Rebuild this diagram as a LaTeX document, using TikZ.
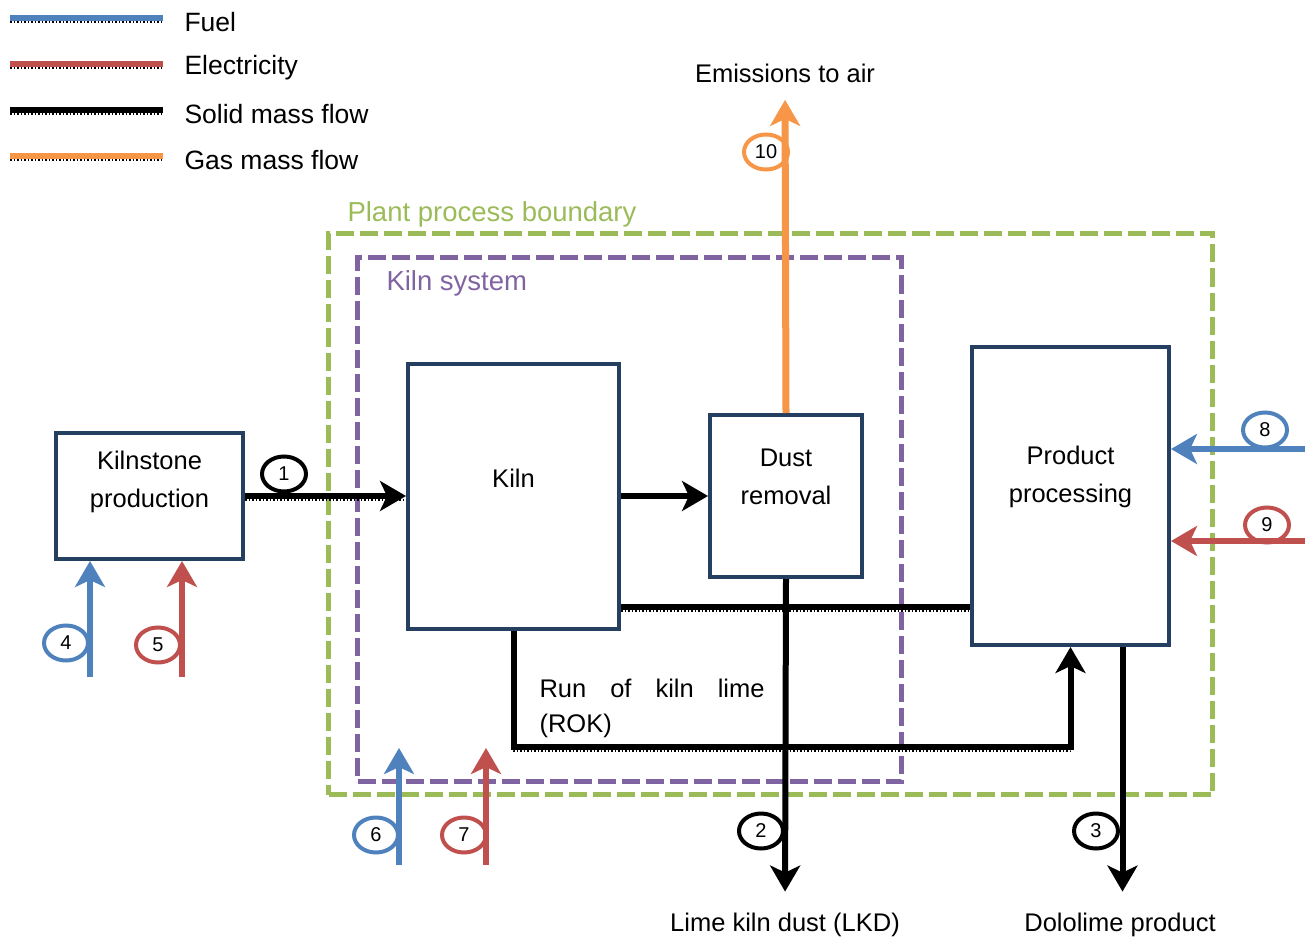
\documentclass[tikz,border=0pt]{standalone}
\usepackage{fontspec}
\setmainfont{Liberation Sans}
\usepackage{tikz}
\usetikzlibrary{positioning,arrows.meta,calc,shapes.geometric}
\definecolor{fuelblue}{RGB}{79,129,189}
\definecolor{elecred}{RGB}{192,80,77}
\definecolor{gasorange}{RGB}{247,150,70}
\definecolor{plantgreen}{RGB}{155,187,89}
\definecolor{kilnpurple}{RGB}{128,100,162}
\definecolor{boxnavy}{RGB}{36,63,96}

\begin{document}
\begin{tikzpicture}[
    x=1pt, y=-1pt,
    font=\fontsize{25.5}{30}\selectfont,
    box/.style={draw=boxnavy, line width=4pt, fill=white, anchor=north west, inner sep=0pt},
    boxtxt/.style={align=center, font=\fontsize{25.5}{38}\selectfont},
    bound/.style={draw=#1, line width=5pt, dash pattern=on 18pt off 6pt, anchor=north west, inner sep=0pt},
    arr/.style={-{Stealth[length=26pt, width=30pt, inset=7pt]}},
    solidflow/.style={draw=black, line width=6pt},
    texture/.style={postaction={draw=black, -, dotted, line width=1.5pt, transform canvas={yshift=-4pt}}},
    fuelflow/.style={draw=fuelblue, line width=6pt},
    elecflow/.style={draw=elecred, line width=6pt},
    gasflow/.style={draw=gasorange, line width=7pt},
    num/.style={ellipse, draw=#1, line width=4pt, minimum width=44pt, minimum height=35pt,
                inner sep=0pt, font=\fontsize{20}{20}\selectfont},
    lbl/.style={anchor=west},
    bndlbl/.style={anchor=west, font=\fontsize{27.5}{30}\selectfont},
]
\useasboundingbox (0,0) rectangle (1314,941);

% ---- Legend ----
\foreach \c/\t [count=\i] in {fuelblue/Fuel, elecred/Electricity, black/Solid mass flow, gasorange/Gas mass flow}{
  \node[lbl, font=\fontsize{26.5}{30}\selectfont] (leg\i) at (181,{22+46*(\i-1)}) {\t};
  \draw[line width=6pt, \c] ($(leg\i.west)+(-171,-4)$) -- ++(153,0);
  \draw[dotted, line width=1.5pt] ($(leg\i.west)+(-171,0)$) -- ++(153,0);
}

% ---- Boundaries ----
\node[bound=plantgreen, minimum width=884pt, minimum height=561pt] (plant) at (326,231) {};
\node[bound=kilnpurple, minimum width=544pt, minimum height=524pt] (ksys)  at (355,255) {};
\node[bndlbl, text=plantgreen] at ($(plant.north west)+(18,-17)$) {Plant process boundary};
\node[bndlbl, text=kilnpurple] at ($(ksys.north west)+(28,28)$) {Kiln system};

% ---- Process boxes ----
\node[box, minimum width=187pt, minimum height=126pt] (kst)  at (54,431)  {};
\node[box, minimum width=211pt, minimum height=265pt] (kiln) at (406,362) {};
\node[box, minimum width=152pt, minimum height=162pt] (dust) at (708,413) {};
\node[box, minimum width=197pt, minimum height=298pt] (prod) at (970,345) {};
\node[boxtxt] at ($(kst.center)+(0,-14)$)  {Kilnstone\\production};
\node[boxtxt] at ($(kiln.center)+(0,-18)$) {Kiln};
\node[boxtxt] at ($(dust.center)+(0,-19)$) {Dust\\removal};
\node[boxtxt] at ($(prod.center)+(0,-19)$) {Product\\processing};

% ---- End labels ----
\node (emis) at (785,73)  {Emissions to air};
\node (lkd)  at (785,925) {Lime kiln dust (LKD)};
\node (dolo) at (1120,925) {Dololime product};

% ---- Solid and gas flows ----
\draw[solidflow, texture, arr] (kst.east) -- (kiln.west |- kst.east);
\draw[solidflow, arr] (kiln.east |- dust.west) -- (dust.west);
\draw[gasflow, arr, shorten >=14pt] (dust.north) -- (emis.south);
\draw[solidflow, arr, shorten >=18pt] (dust.south) -- (lkd.north);
\coordinate (k603) at ($(kiln.south east)+(0,-24)$);
\draw[solidflow, texture] (k603) -- (k603 -| prod.west);
\draw[solidflow, texture, arr] (kiln.south) -- ++(0,116) -| (prod.south);
\node[lbl, text width=225pt, align=justify, font=\fontsize{25.5}{35}\selectfont] (rok) at (536,708)
  {Run of kiln lime (ROK)};
\coordinate (p3) at ($(prod.south)+(52,0)$);
\draw[solidflow, arr, shorten >=18pt] (p3) -- (p3 |- dolo.north);

% ---- Fuel and electricity ----
\coordinate (f4) at (90,677);
\coordinate (e5) at (182,677);
\coordinate (f6) at (399,865);
\coordinate (e7) at (486,865);
\coordinate (f8) at (1305,449);
\coordinate (e9) at (1305,541);
\draw[fuelflow, arr] (f4) -- (f4 |- kst.south);
\draw[elecflow, arr] (e5) -- (e5 |- kst.south);
\draw[fuelflow, arr] (f6) -- ++(0,-117);
\draw[elecflow, arr] (e7) -- ++(0,-117);
\draw[fuelflow, arr] (f8) -- (f8 -| prod.east);
\draw[elecflow, arr] (e9) -- (e9 -| prod.east);

% ---- Stream numbers ----
\node[num=black]     (n1)  at (284,474)  {1};
\node[num=black]     (n2)  at (761,831)  {2};
\node[num=black]     (n3)  at (1096,831) {3};
\node[num=fuelblue]  (n4)  at (66,643)   {4};
\node[num=elecred]   (n5)  at (158,645)  {5};
\node[num=fuelblue]  (n6)  at (376,835)  {6};
\node[num=elecred]   (n7)  at (464,835)  {7};
\node[num=fuelblue]  (n8)  at (1265,430) {8};
\node[num=elecred]   (n9)  at (1267,525) {9};
\node[num=gasorange] (n10) at (766,152)  {10};
\end{tikzpicture}
\end{document}
